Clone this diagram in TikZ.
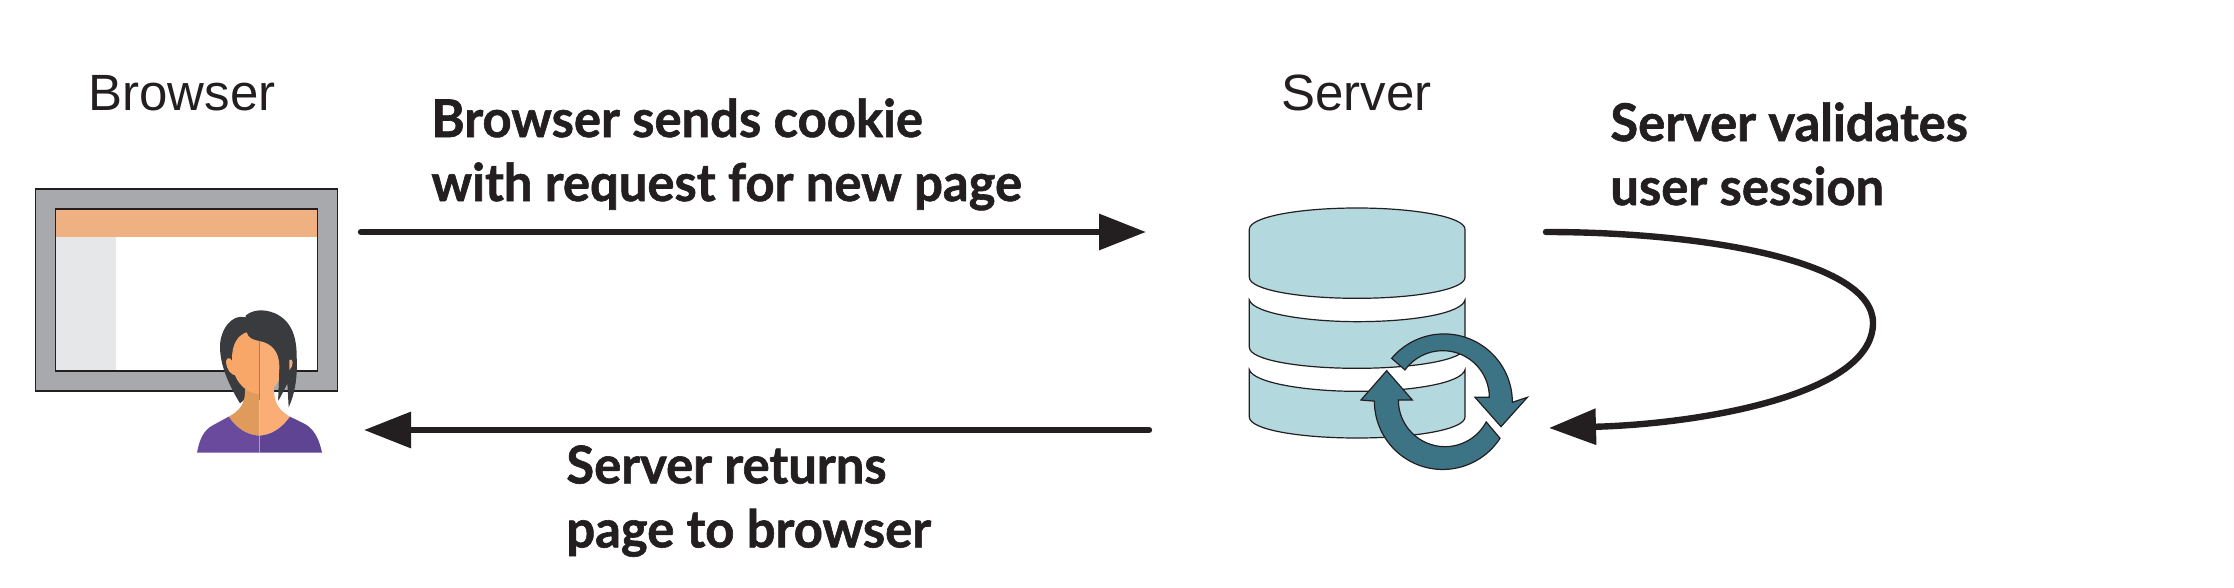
\documentclass[tikz,border=0pt]{standalone}
\usepackage{fontspec}
\setmainfont{Liberation Sans}
\newfontfamily\labelfont[BoldFont={* Bold},BoldFeatures={FakeBold=1.2,FakeStretch=0.975}]{Lato}
\usepackage{xcolor}
\usetikzlibrary{arrows.meta,positioning}
\definecolor{inkdark}{HTML}{231F20}
\definecolor{framegrey}{HTML}{A7A9AC}
\definecolor{bandorange}{HTML}{EFB182}
\definecolor{sidegrey}{HTML}{E6E7E8}
\definecolor{hairdark}{HTML}{3A3B3E}
\definecolor{skinleft}{HTML}{F8A768}
\definecolor{skinright}{HTML}{FAAE75}
\definecolor{neckleft}{HTML}{E09A5B}
\definecolor{shirtleft}{HTML}{6A4A9D}
\definecolor{shirtright}{HTML}{5E4492}
\definecolor{discblue}{HTML}{B3D8DE}
\definecolor{refreshteal}{HTML}{3D7485}
\tikzset{>={Triangle[length=23.5pt,width=17.5pt]}}
\tikzset{
  flow/.style={->,draw=inkdark,line width=3.2pt,line cap=round},
  titletext/.style={inkdark,font=\fontsize{25.5pt}{30pt}\selectfont,inner sep=0pt,anchor=base west},
  steptext/.style={inkdark,font=\labelfont\bfseries\fontsize{26pt}{32pt}\selectfont,inner sep=0pt,align=left,anchor=north west},
  disc/.style={fill=discblue,draw=inkdark,line width=.6pt},
  refresh/.style={fill=refreshteal,draw=inkdark,line width=.6pt,line join=miter}
}
\begin{document}
\begin{tikzpicture}[x=.5pt,y=-.5pt]
  \useasboundingbox (0,0) rectangle (2234,588);

  \node [titletext] (browser) at (88,111) {Browser};
  \node [titletext] (server) at (1281,111) {Server};

  \node [draw=inkdark,
    fill=framegrey,
    line width=.8pt,
    inner sep=0pt,
    outer sep=0pt,
    minimum width=151pt,
    minimum height=101pt,
    anchor=north west
  ] (monitor) at (35.5,189) {};
  \node [draw=inkdark,
    fill=white,
    line width=.8pt,
    inner sep=0pt,
    outer sep=0pt,
    minimum width=131pt,
    minimum height=81pt
  ] (screen) at (monitor.center) {};
  \node [fill=bandorange,
    inner sep=0pt,
    outer sep=0pt,
    minimum width=130.2pt,
    minimum height=13.5pt,
    below=.4pt of screen.north
  ] (band) {};
  \node [fill=sidegrey,
    inner sep=0pt,
    outer sep=0pt,
    minimum width=30pt,
    minimum height=66.7pt,
    below right=0pt and 0pt of band.south west
  ] (sidebar) {};

  \begin{scope}[shift={(0,170)},x=.16667pt,y=-.16667pt]
    \fill[hairdark] (737,437) .. controls (755,420) and (790,415) .. (825,430)
      .. controls (880,455) and (890,510) .. (890,560)
      .. controls (893,620) and (885,670) .. (866,712)
      -- (862,640) -- (835,692) -- (838,600) -- (720,700)
      .. controls (690,650) and (660,590) .. (660,530)
      .. controls (660,480) and (695,430) .. (737,442) -- cycle;
    \fill[neckleft] (735,650) -- (778,650) -- (778,797)
      .. controls (740,795) and (710,775) .. (686,740)
      .. controls (720,722) and (738,700) .. (735,650) -- cycle;
    \fill[skinright] (778,650) -- (822,650)
      .. controls (820,700) and (838,722) .. (870,740)
      .. controls (845,775) and (815,795) .. (778,797) -- cycle;
    \fill[shirtleft] (778,848) -- (591,848)
      .. controls (598,810) and (610,780) .. (640,765)
      -- (686,740) .. controls (710,775) and (740,795) .. (778,797) -- cycle;
    \fill[shirtright] (778,848) -- (966,848)
      .. controls (958,810) and (945,780) .. (915,762)
      -- (870,740) .. controls (845,775) and (815,795) .. (778,797) -- cycle;
    \fill[skinleft] (678,575) .. controls (682,555) and (698,565) .. (700,585)
      -- (712,618) .. controls (692,615) and (680,600) .. (678,575) -- cycle;
    \fill[skinright] (868,570) .. controls (880,560) and (882,590) .. (868,600) -- cycle;
    \fill[skinleft] (740,487) .. controls (715,495) and (695,520) .. (696,570)
      .. controls (697,620) and (725,668) .. (778,672) -- (778,513)
      .. controls (760,510) and (745,505) .. (740,487) -- cycle;
    \fill[skinright] (778,513) .. controls (815,520) and (838,545) .. (838,590)
      -- (838,628) .. controls (825,655) and (805,670) .. (778,672) -- cycle;
    \fill[hairdark] (838,600) -- (835,692) -- (862,640) -- (866,560) -- cycle;
    \draw[neckleft!80!black,line width=.4pt] (778,513) -- (778,690);
    \draw[shirtleft!55!white,line width=.4pt] (778,797) -- (778,848);
  \end{scope}

  \begin{scope}[shift={(1200,190)},x=.16667pt,y=-.16667pt]
    \filldraw[disc] (148,118) .. controls (148,80) and (300,54) .. (471,54)
      .. controls (640,54) and (795,80) .. (795,118) -- (795,262)
      .. controls (795,300) and (640,325) .. (471,325)
      .. controls (300,325) and (148,300) .. (148,262) -- cycle;
    \foreach \dy in {0,209} {
      \filldraw[disc] (148,330+\dy) .. controls (160,370+\dy) and (320,395+\dy) .. (471,395+\dy)
        .. controls (640,395+\dy) and (785,370+\dy) .. (795,330+\dy) -- (795,472+\dy)
        .. controls (795,510+\dy) and (640,535+\dy) .. (471,535+\dy)
        .. controls (300,535+\dy) and (148,510+\dy) .. (148,472+\dy) -- cycle;
    }
    \filldraw[refresh] (575,505) arc[start angle=-140,end angle=0,radius=205]
      -- (982,622) -- (903,710) -- (825,622) -- (868,622)
      arc[start angle=0,end angle=-144,radius=140] -- cycle;
    \filldraw[refresh] (900,745) arc[start angle=33,end angle=180,radius=205]
      -- (483,630) -- (560,542) -- (637,630) -- (595,630)
      arc[start angle=180,end angle=28,radius=140] -- cycle;
  \end{scope}

  \node [steptext] (sendtext) at (431,98) {Browser sends cookie\\with request for new page};
  \node [steptext] (checktext) at (1610,102) {Server validates\\user session};
  \node [steptext] (returntext) at (566,445) {Server returns\\page to browser};

  \coordinate (sendfrom) at (361,232);
  \coordinate (sendto) at (1146,232);
  \coordinate (returnfrom) at (1149,430);
  \coordinate (returnto) at (364,430);
  \coordinate (checkfrom) at (1546,232);
  \coordinate (checkside) at (1873,323);
  \coordinate (checkto) at (1549,428);

  \draw[flow] (sendfrom) -- (sendto);
  \draw[flow] (returnfrom) -- (returnto);
  \draw[flow] (checkfrom) .. controls (1700,232) and (1873,260) .. (checkside)
    .. controls (1873,395) and (1700,424) .. (checkto);
\end{tikzpicture}
\end{document}
